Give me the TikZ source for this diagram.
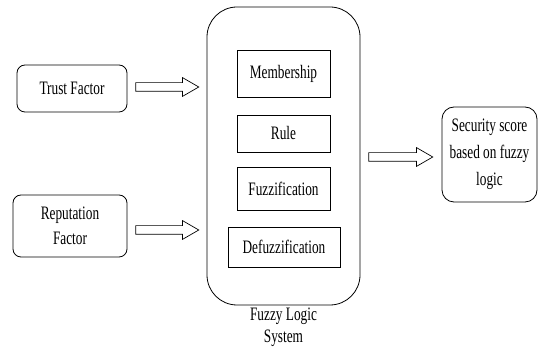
\documentclass[tikz,border=0pt]{standalone}
\usepackage{fontspec}
\newfontfamily\narrowserif{Liberation Serif}[FakeStretch=0.7]
\usetikzlibrary{shapes.arrows,calc}
\begin{document}
\begin{tikzpicture}[x=1pt,y=1pt,
  every node/.style={font=\narrowserif\fontsize{19}{25}\selectfont, align=center, inner sep=0pt},
  roundbox/.style={draw, line width=0.8pt, rounded corners=8pt},
  plainbox/.style={draw, line width=0.9pt},
  blockarrow/.style={single arrow, draw, line width=0.7pt, inner sep=4pt,
    minimum width=18pt, single arrow head extend=5pt, single arrow tip angle=60,
    anchor=west}]
\useasboundingbox (0,0) rectangle (539,356);

% inputs
\node[roundbox, minimum width=110pt, minimum height=47pt] (trust) at (72,267.5) {Trust Factor};
\node[roundbox, minimum width=114pt, minimum height=62pt] (rep) at (70,130) {Reputation\\Factor};

% fuzzy logic system container
\node[draw, line width=0.8pt, rounded corners=30pt, minimum width=153pt, minimum height=298pt] (fls) at (283.5,200) {};
\node[plainbox, minimum width=93pt, minimum height=47pt] (mem) at (283.5,282.5) {Membership};
\node[plainbox, minimum width=93pt, minimum height=37pt] (rule) at (283.5,222.5) {Rule};
\node[plainbox, minimum width=93pt, minimum height=43pt] (fuzz) at (283.5,167.5) {Fuzzification};
\node[plainbox, minimum width=112pt, minimum height=40pt] (defuzz) at (284,109) {Defuzzification};
\node[anchor=north, font=\narrowserif\fontsize{19}{22}\selectfont] (flslabel) at ($(fls.south)+(0,-2)$) {Fuzzy Logic\\System};

% output
\node[roundbox, rounded corners=12pt, minimum width=95pt, minimum height=95pt, font=\narrowserif\fontsize{19}{27}\selectfont] (score) at (489.5,201.5) {Security score\\based on fuzzy\\logic};

% block arrows
\node[blockarrow, minimum height=63pt] (a1) at ($(trust.east)+(8,1.5)$) {};
\node[blockarrow, minimum height=63pt] (a2) at ($(rep.east |- 0,126)+(8,0)$) {};
\node[blockarrow, minimum height=64pt] (a3) at ($(fls.east |- 0,199)+(8,0)$) {};
\end{tikzpicture}
\end{document}
